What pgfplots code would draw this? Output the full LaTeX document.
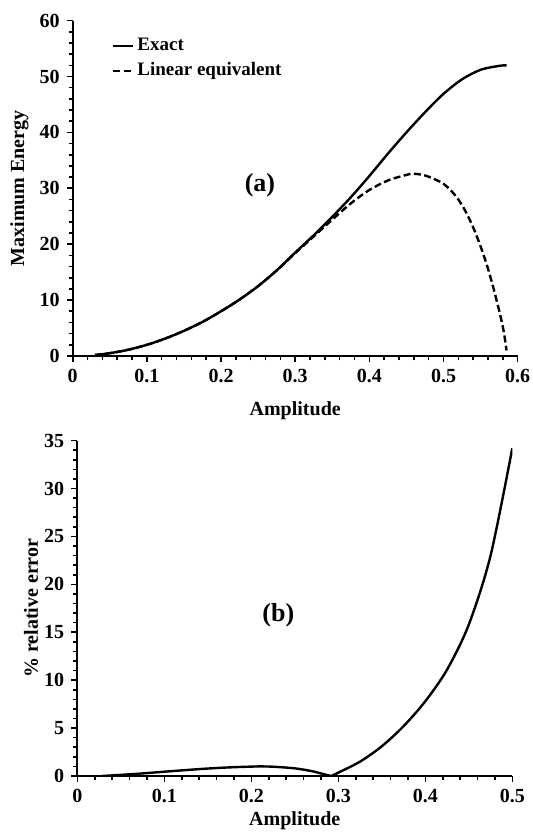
\documentclass[border=0pt]{standalone}
\usepackage{fontspec}
\setmainfont{Liberation Serif}
\usepackage{pgfplots}
\pgfplotsset{compat=1.18}

\pgfplotsset{
  panel/.style={
    scale only axis,
    axis lines=left,
    axis line style={-, line width=1pt},
    tick align=outside,
    major tick length=3pt,
    minor tick length=2pt,
    every tick/.style={black, line width=0.8pt},
    minor tick num=4,
    /pgf/number format/assume math mode=true,
    ticklabel style={font=\bfseries\fontsize{10}{12}\selectfont},
    label style={font=\bfseries\fontsize{10}{12}\selectfont},
    xlabel={Amplitude},
    grid=none,
  },
  curve/.style={black, line width=1.2pt, smooth},
}

\begin{document}
\begin{tikzpicture}
\useasboundingbox (0pt,0pt) rectangle (266pt,-419pt);

% (a) maximum energy
\begin{axis}[panel,
  at={(36.35pt,-178pt)}, anchor=south west,
  width=222.5pt, height=167.7pt,
  xmin=0, xmax=0.6, ymin=0, ymax=60,
  xtick={0,0.1,...,0.6}, ytick={0,10,...,60},
  xticklabels={0,0.1,0.2,0.3,0.4,0.5,0.6},
  ylabel={Maximum Energy},
  ylabel style={at={(axis description cs:-0.12,0.5)}, anchor=center},
  xlabel style={at={(axis description cs:0.5,-0.176)}, anchor=base},
  legend style={at={(axis cs:0.053,57.5)}, anchor=north west, draw=none, fill=none,
    inner sep=0pt, row sep=1.5pt, font=\bfseries\fontsize{9.5}{11}\selectfont,
    nodes={inner sep=1.5pt}},
  legend cell align=left,
  legend image code/.code={\draw[#1, line width=1pt] (0pt,0pt) -- (10pt,0pt);},
]
\addplot[curve] coordinates {
  (0.03,0.18) (0.05,0.5) (0.075,1.12) (0.1,2.0) (0.125,3.13) (0.15,4.5)
  (0.175,6.1) (0.2,8.0) (0.225,10.1) (0.25,12.5) (0.275,15.3) (0.3,18.5)
  (0.325,21.6) (0.35,24.9) (0.375,28.4) (0.4,32.2) (0.425,36.2) (0.45,40.0)
  (0.475,43.6) (0.5,46.9) (0.525,49.5) (0.55,51.2) (0.575,51.9) (0.585,52.0)
};
\addplot[curve, dash pattern=on 3.5pt off 1.7pt] coordinates {
  (0.03,0.18) (0.05,0.5) (0.075,1.12) (0.1,2.0) (0.125,3.13) (0.15,4.5)
  (0.175,6.1) (0.2,8.0) (0.225,10.1) (0.25,12.5) (0.275,15.3) (0.3,18.4)
  (0.325,21.4) (0.35,24.4) (0.375,27.3) (0.4,29.7) (0.425,31.4) (0.45,32.4)
  (0.46,32.6) (0.475,32.3) (0.49,31.5) (0.5,30.8) (0.51,29.6) (0.52,28.0)
  (0.53,25.8) (0.54,23.0) (0.55,19.6) (0.56,15.6) (0.57,10.8) (0.58,5.2)
  (0.585,1.0)
};
\legend{Exact, Linear equivalent}
\node[font=\bfseries\fontsize{13}{15}\selectfont] at (axis cs:0.2525,30.5) {(a)};
\end{axis}

% (b) relative error
\begin{axis}[panel,
  at={(38.65pt,-388pt)}, anchor=south west,
  width=217.5pt, height=167.7pt,
  xmin=0, xmax=0.5, ymin=0, ymax=35,
  xtick={0,0.1,...,0.5}, ytick={0,5,...,35},
  xticklabels={0,0.1,0.2,0.3,0.4,0.5},
  ylabel={\% relative error},
  ylabel style={at={(axis description cs:-0.106,0.5)}, anchor=center},
  xlabel style={at={(axis description cs:0.5,-0.149)}, anchor=base},
]
\addplot[curve] coordinates {
  (0.028,0) (0.05,0.12) (0.075,0.27) (0.1,0.45) (0.125,0.62) (0.15,0.78)
  (0.175,0.9) (0.2,0.98) (0.21,1.0) (0.225,0.97) (0.25,0.8) (0.27,0.5)
  (0.285,0.15) (0.292,0.0)
};
\addplot[curve] coordinates {
  (0.292,0.0) (0.3,0.35) (0.325,1.5) (0.35,3.1) (0.375,5.2) (0.4,7.8)
  (0.425,11.1) (0.45,15.8) (0.475,23.0) (0.5,34.2)
};
\node[font=\bfseries\fontsize{13}{15}\selectfont] at (axis cs:0.231,16.8) {(b)};
\end{axis}
\end{tikzpicture}
\end{document}
